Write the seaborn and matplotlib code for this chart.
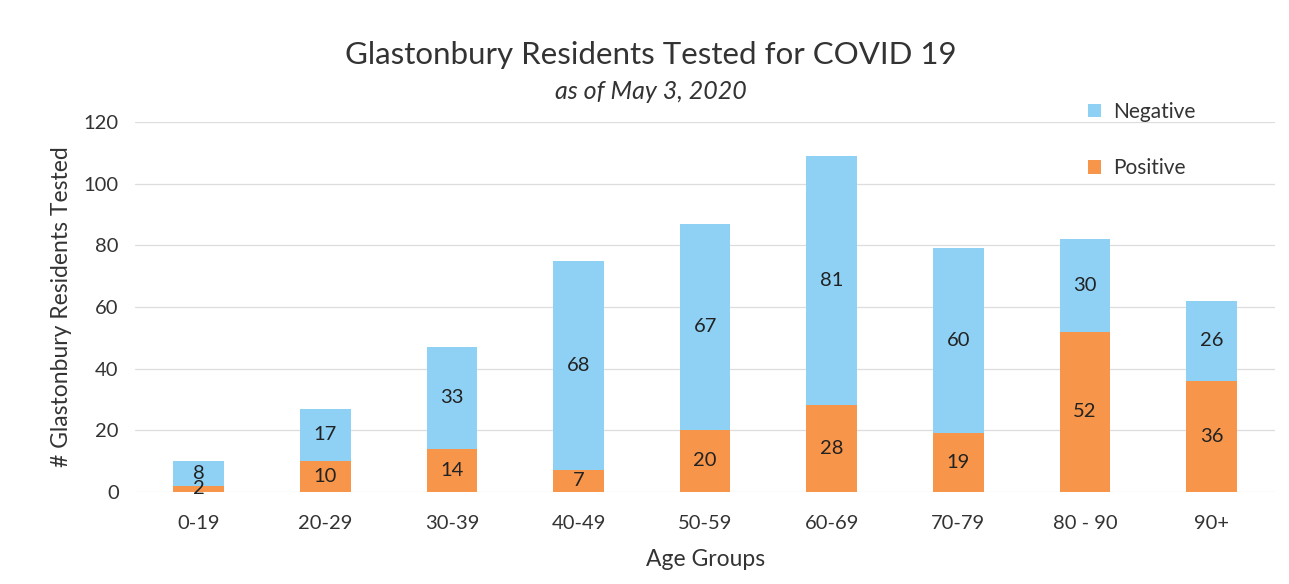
import numpy as np
import pandas as pd
import matplotlib
matplotlib.use('Agg')
import matplotlib.pyplot as plt
import seaborn as sns

# data
age_groups = ['0-19', '20-29', '30-39', '40-49', '50-59', '60-69', '70-79', '80 - 90', '90+']
positive = [2, 10, 14, 7, 20, 28, 19, 52, 36]
negative = [8, 17, 33, 68, 67, 81, 60, 30, 26]
y_ticks = [0, 20, 40, 60, 80, 100, 120]

blue = '#8ED1F5'
orange = '#F7964A'

sns.set_theme(style='white')
plt.rcParams['font.family'] = ['Lato', 'DejaVu Sans']

df = pd.DataFrame({'age': age_groups, 'positive': positive, 'negative': negative})
df['total'] = df['positive'] + df['negative']

fig = plt.figure(figsize=(12.89, 5.84), dpi=100)
ax = fig.add_axes([0.105, 0.158, 0.884, 0.633])

# stacked bars: total first (blue), positive on top of it (orange)
sns.barplot(data=df, x='age', y='total', color=blue, width=0.4, saturation=1, ax=ax,
            label='Negative', zorder=3, linewidth=0, edgecolor='none')
sns.barplot(data=df, x='age', y='positive', color=orange, width=0.4, saturation=1, ax=ax,
            label='Positive', zorder=3, linewidth=0, edgecolor='none')

# segment labels
for i, (p, n) in enumerate(zip(positive, negative)):
    ax.text(i, p + n / 2, str(n), ha='center', va='center', fontsize=14.5, color='#222222', zorder=4)
    ax.text(i, p / 2, str(p), ha='center', va='center', fontsize=14.5, color='#222222', zorder=4)

ax.set_ylim(0, 120)
ax.set_yticks(y_ticks)
ax.yaxis.grid(True, color='#DDDDDD', linewidth=0.9, zorder=0)
ax.set_axisbelow(True)
sns.despine(ax=ax, left=True, bottom=True, top=True, right=True)
ax.tick_params(axis='both', length=0, labelsize=14.5, colors='#333333')
ax.tick_params(axis='y', pad=12)
ax.tick_params(axis='x', pad=17)

ax.set_xlabel('Age Groups', fontsize=16.5, color='#333333', labelpad=12)
ax.set_ylabel('# Glastonbury Residents Tested', fontsize=16.5, color='#333333', labelpad=8)

fig.text(0.505, 0.905, 'Glastonbury Residents Tested for COVID 19', ha='center', va='center',
         fontsize=22.5, color='#333333')
fig.text(0.505, 0.843, 'as of May 3, 2020', ha='center', va='center', fontsize=18,
         style='italic', color='#333333')

leg = ax.legend(loc='upper left', bbox_to_anchor=(0.82, 1.105), frameon=False, fontsize=15,
                handlelength=0.6, handleheight=0.6, handletextpad=0.6, labelspacing=1.75)
for t in leg.get_texts():
    t.set_color('#333333')

fig.savefig('out.png', dpi=100)
